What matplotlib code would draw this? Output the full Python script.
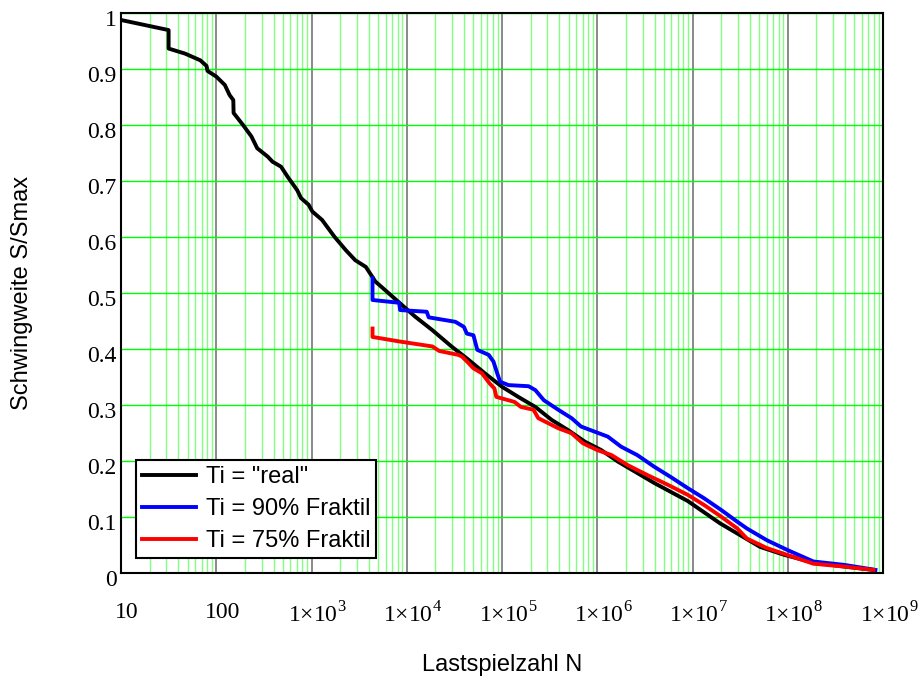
"""Woehler-type S-N curves: real vs. fractile-based Ti."""
import matplotlib
matplotlib.use("Agg")
import matplotlib.pyplot as plt
import matplotlib.transforms as mtransforms
from matplotlib.ticker import FixedLocator, FixedFormatter, LogLocator, NullFormatter

plt.rcParams["mathtext.fontset"] = "custom"
plt.rcParams["mathtext.rm"] = "Liberation Serif"

SANS = "Liberation Sans"
SERIF = "Liberation Serif"
GREEN = "#00ff00"
LIGHT_GREEN = "#80ff80"
GRAY = "#808080"

# Ti = "real"
real_n = [10, 31.6, 31.6, 47, 68, 79, 81, 100, 123, 138, 151, 152, 190, 234, 269,
          347, 389, 479, 562, 708, 776, 933, 1020, 1290, 1740, 2290, 2880, 3720,
          4680, 6460, 8910, 1.23e4, 1.86e4, 2.95e4, 4.47e4, 6.61e4, 1.0e5, 1.48e5,
          2.24e5, 3.31e5, 4.9e5, 7.41e5, 1.1e6, 1.66e6, 3.98e6, 8.91e6, 1.95e7,
          2.95e7, 5.13e7, 9.12e7, 1.86e8, 3.89e8, 7.94e8]
real_s = [0.987, 0.969, 0.936, 0.927, 0.915, 0.905, 0.896, 0.886, 0.871, 0.853,
          0.844, 0.821, 0.80, 0.779, 0.758, 0.743, 0.734, 0.725, 0.707, 0.683,
          0.669, 0.657, 0.645, 0.63, 0.60, 0.576, 0.558, 0.546, 0.52, 0.499,
          0.478, 0.457, 0.433, 0.404, 0.38, 0.356, 0.332, 0.314, 0.296, 0.273,
          0.255, 0.234, 0.219, 0.198, 0.16, 0.128, 0.088, 0.07, 0.046, 0.032,
          0.018, 0.011, 0.005]

# Ti = 90% Fraktil
f90_n = [4370, 4370, 8320, 8510, 1.62e4, 1.70e4, 3.24e4, 3.98e4, 4.27e4, 5.01e4,
         5.5e4, 7.24e4, 8.13e4, 8.91e4, 9.55e4, 1.17e5, 1.9e5, 2.24e5, 2.75e5,
         3.89e5, 5.37e5, 6.76e5, 9.33e5, 1.29e6, 1.78e6, 2.63e6, 3.98e6, 5.89e6,
         8.91e6, 1.32e7, 2.0e7, 2.95e7, 3.72e7, 6.03e7, 9.77e7, 1.86e8, 3.89e8,
         8.32e8]
f90_s = [0.526, 0.487, 0.482, 0.469, 0.466, 0.456, 0.448, 0.439, 0.427, 0.424,
         0.398, 0.389, 0.377, 0.356, 0.341, 0.335, 0.333, 0.326, 0.308, 0.291,
         0.276, 0.261, 0.252, 0.243, 0.225, 0.21, 0.189, 0.171, 0.151, 0.133,
         0.112, 0.091, 0.079, 0.058, 0.041, 0.02, 0.014, 0.005]

# Ti = 75% Fraktil
f75_n = [4370, 4370, 8320, 1.86e4, 2.19e4, 3.47e4, 3.8e4, 4.47e4, 5.01e4, 6.17e4,
         7.41e4, 8.32e4, 8.71e4, 1.35e5, 1.58e5, 2.14e5, 2.4e5, 3.89e5, 5.37e5,
         7.08e5, 1.0e6, 1.41e6, 2.09e6, 3.39e6, 5.5e6, 8.91e6, 1.32e7, 2.0e7,
         2.95e7, 3.72e7, 6.03e7, 9.77e7, 1.86e8, 3.89e8, 7.94e8]
f75_s = [0.436, 0.421, 0.413, 0.404, 0.396, 0.389, 0.386, 0.374, 0.365, 0.356,
         0.338, 0.329, 0.314, 0.305, 0.296, 0.291, 0.276, 0.258, 0.249, 0.231,
         0.219, 0.21, 0.192, 0.174, 0.157, 0.139, 0.121, 0.1, 0.079, 0.061,
         0.044, 0.032, 0.016, 0.011, 0.005]

x_ticks = [1e1, 1e2, 1e3, 1e4, 1e5, 1e6, 1e7, 1e8, 1e9]
x_labels = ["10", "100"] + [r"$1{\times}10^{%d}$" % k for k in range(3, 10)]
y_ticks = [0, 0.1, 0.2, 0.3, 0.4, 0.5, 0.6, 0.7, 0.8, 0.9, 1.0]
y_labels = ["0", "0.1", "0.2", "0.3", "0.4", "0.5", "0.6", "0.7", "0.8", "0.9", "1"]

fig = plt.figure(figsize=(9.23, 6.8), dpi=100)
ax = fig.add_axes([0.1311, 0.1578, 0.8256, 0.8235])

ax.plot(real_n, real_s, color="black", lw=2.8, label='Ti = "real"')
ax.plot(f90_n, f90_s, color="#0000ff", lw=2.8, label="Ti = 90% Fraktil")
ax.plot(f75_n, f75_s, color="#ff0000", lw=2.8, label="Ti = 75% Fraktil")

ax.set_xscale("log")
ax.set_xlim(10, 1e9)
ax.set_ylim(0, 1)

ax.xaxis.set_major_locator(FixedLocator(x_ticks))
ax.xaxis.set_major_formatter(FixedFormatter(x_labels))
ax.xaxis.set_minor_locator(LogLocator(base=10, subs=range(2, 10), numticks=20))
ax.xaxis.set_minor_formatter(NullFormatter())
ax.yaxis.set_major_locator(FixedLocator(y_ticks))
ax.yaxis.set_major_formatter(FixedFormatter(y_labels))

ax.grid(True, which="minor", axis="x", color=LIGHT_GREEN, lw=1.0)
ax.grid(True, which="major", axis="x", color=GRAY, lw=1.3)
ax.grid(True, which="major", axis="y", color=GREEN, lw=1.0)
ax.set_axisbelow(True)

ax.tick_params(which="both", length=0)
ax.tick_params(axis="x", pad=21)
ax.tick_params(axis="y", pad=3)

# Mathcad places tick labels slightly right/below their grid line
x_off = mtransforms.ScaledTranslation(6 / 100, 0, fig.dpi_scale_trans)
y_off = mtransforms.ScaledTranslation(0, -5 / 100, fig.dpi_scale_trans)
for lbl in ax.get_xticklabels():
    lbl.set_fontfamily(SERIF)
    lbl.set_fontsize(17)
    lbl.set_transform(lbl.get_transform() + x_off)
for lbl in ax.get_yticklabels():
    lbl.set_fontfamily(SERIF)
    lbl.set_fontsize(17)
    lbl.set_transform(lbl.get_transform() + y_off)

for spine in ax.spines.values():
    spine.set_color("black")
    spine.set_linewidth(1.5)

ax.set_xlabel("Lastspielzahl N", fontfamily=SANS, fontsize=17)
ax.xaxis.set_label_coords(0.5, -0.145)
ax.set_ylabel("Schwingweite S/Smax", fontfamily=SANS, fontsize=17)
ax.yaxis.set_label_coords(-0.115, 0.5)

leg = ax.legend(loc="lower left", bbox_to_anchor=(0.0197, 0.026), borderaxespad=0,
                prop={"family": SANS, "size": 17}, fancybox=False, framealpha=1,
                edgecolor="black", handlelength=2.3, handletextpad=0.4,
                labelspacing=0.43, borderpad=0.25)
leg.get_frame().set_linewidth(1.5)

fig.savefig("out.png", dpi=100)
